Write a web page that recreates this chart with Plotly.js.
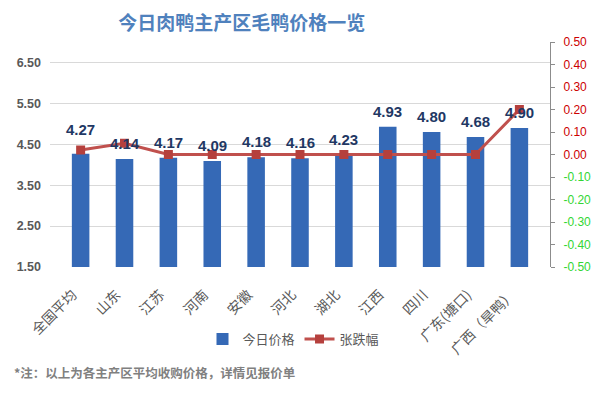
<!DOCTYPE html>
<html>
<head>
<meta charset="utf-8">
<script src="https://cdn.plot.ly/plotly-3.0.1.min.js"></script>
<style>html,body{margin:0;padding:0;background:#fff;}#chart{width:594px;height:394px;}</style>
</head>
<body>
<div id="chart"></div>
<script>
var categories = ['全国平均','山东','江苏','河南','安徽','河北','湖北','江西','四川','广东(塘口)','广西（旱鸭）'];
var prices = [4.27, 4.14, 4.17, 4.09, 4.18, 4.16, 4.23, 4.93, 4.80, 4.68, 4.90];
var changes = [0.02, 0.05, 0.00, 0.00, 0.00, 0.00, 0.00, 0.00, 0.00, 0.00, 0.20];
var leftTicks = [1.5, 2.5, 3.5, 4.5, 5.5, 6.5];
var rightTicks = [-0.5, -0.4, -0.3, -0.2, -0.1, 0, 0.1, 0.2, 0.3, 0.4, 0.5];
var seriesNames = ['今日价格', '张跌幅'];
var titleText = '今日肉鸭主产区毛鸭价格一览';
var noteText = '*注：以上为各主产区平均收购价格，详情见报价单';

var cjk = '"Noto Sans CJK SC", "Liberation Sans", sans-serif';
var num = '"Liberation Sans", Arial, sans-serif';

var rightText = rightTicks.map(function(v){
  var s = v.toFixed(2);
  return v < 0 ? '<span style="color:#33d633">' + s + '</span>' : s;
});

var bars = {
  type: 'bar', name: seriesNames[0], x: categories, y: prices,
  marker: {color: '#3569b6'},
  hoverinfo: 'none'
};
var line = {
  type: 'scatter', mode: 'lines+markers', name: seriesNames[1],
  x: categories, y: changes, yaxis: 'y2',
  line: {color: '#c0504d', width: 3},
  marker: {symbol: 'square', size: 9, color: '#b5403d'},
  hoverinfo: 'none'
};

var annotations = prices.map(function(v, i){
  return {x: categories[i], y: v, xref: 'x', yref: 'y', text: v.toFixed(2),
    showarrow: false, yanchor: 'bottom', yshift: i === 0 ? 14 : 5,
    font: {family: num, size: 15, color: '#1f3864', weight: 'bold'}};
});
annotations.push({xref: 'paper', yref: 'paper', x: -0.076, y: -0.468, xanchor: 'left', yanchor: 'middle',
  text: noteText, showarrow: false,
  font: {family: cjk, size: 12.5, color: '#808080', weight: 'bold'}});

var layout = {
  width: 594, height: 394,
  margin: {l: 50, r: 44, t: 42, b: 126.5},
  paper_bgcolor: '#ffffff', plot_bgcolor: '#ffffff',
  title: {text: titleText, xref: 'container', yref: 'container', x: 0.407, y: 0.942,
    xanchor: 'center', yanchor: 'middle',
    font: {family: cjk, size: 19, color: '#4f81bd', weight: 'bold'}},
  bargap: 0.6,
  showlegend: true,
  legend: {orientation: 'h', x: 0.487, xanchor: 'center', y: -0.32, yanchor: 'middle',
    font: {family: cjk, size: 13, color: '#595959'}, itemwidth: 30, traceorder: 'normal'},
  xaxis: {type: 'category', tickangle: -45, showgrid: false, zeroline: false,
    showline: false, ticks: '', ticklabelstandoff: 16, ticklabelshift: -8,
    tickfont: {family: cjk, size: 14, color: '#595959'}},
  yaxis: {range: [1.5, 7.0], tickvals: leftTicks, ticktext: leftTicks.map(function(v){return v.toFixed(2);}),
    showgrid: true, gridcolor: '#d9d9d9', gridwidth: 1, zeroline: false, showline: false,
    ticks: '', ticklabelstandoff: 8,
    tickfont: {family: num, size: 12.5, color: '#595959', weight: 'bold'}},
  yaxis2: {overlaying: 'y', side: 'right', range: [-0.5, 0.5], tickvals: rightTicks, ticktext: rightText,
    showgrid: false, zeroline: false, showline: true, linecolor: '#8c8c8c', linewidth: 1,
    ticks: 'outside', ticklen: 4, tickcolor: '#8c8c8c', ticklabelstandoff: 6,
    tickfont: {family: num, size: 12, color: '#cc0000'}},
  annotations: annotations
};

Plotly.newPlot('chart', [bars, line], layout, {displayModeBar: false, staticPlot: true});
</script>
</body>
</html>
